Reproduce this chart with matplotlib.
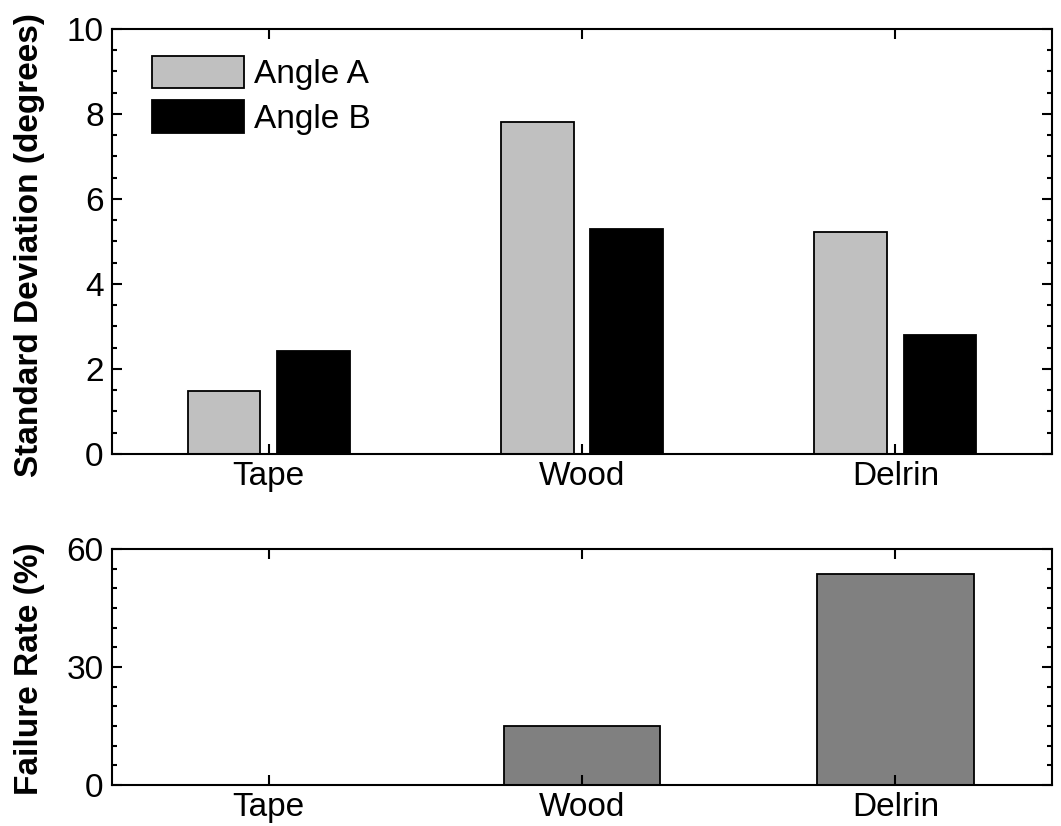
import numpy as np
import matplotlib
matplotlib.use("Agg")
import matplotlib.pyplot as plt
from matplotlib.ticker import MultipleLocator

# data
materials = ["Tape", "Wood", "Delrin"]
angle_a = [1.47, 7.80, 5.22]
angle_b = [2.43, 5.29, 2.80]
failure_rate = [0.0, 15.0, 53.7]

plt.rcParams["font.family"] = ["Liberation Sans", "DejaVu Sans"]
plt.rcParams["font.size"] = 24


def style_axes(ax, minor_step):
    for side in ax.spines.values():
        side.set_linewidth(1.5)
    ax.tick_params(axis="both", which="both", direction="in",
                   top=True, right=True, width=1.5)
    ax.tick_params(axis="both", which="major", length=7)
    ax.tick_params(axis="y", which="minor", length=3.5)
    ax.tick_params(axis="y", which="major", pad=6)
    ax.tick_params(axis="x", which="major", pad=5)
    ax.yaxis.set_minor_locator(MultipleLocator(minor_step))


fig = plt.figure(figsize=(10.61, 8.26), dpi=100)
ax1 = fig.add_axes([0.1056, 0.4504, 0.8859, 0.5145])
ax2 = fig.add_axes([0.1056, 0.0496, 0.8859, 0.2858])

x = np.arange(1, len(materials) + 1)
w = 0.232
off = 0.143

ax1.bar(x - off, angle_a, w, color="#c0c0c0", edgecolor="black",
        linewidth=1.3, label="Angle A")
ax1.bar(x + off, angle_b, w, color="black", edgecolor="black",
        linewidth=1.3, label="Angle B")
ax1.set_xlim(0.5, 3.5)
ax1.set_ylim(0, 10)
ax1.set_xticks(x)
ax1.set_xticklabels(materials)
ax1.set_yticks([0, 2, 4, 6, 8, 10])
style_axes(ax1, 0.5)
ax1.legend(loc="upper left", bbox_to_anchor=(0.043, 0.937), frameon=False,
           borderpad=0, borderaxespad=0, handlelength=2.76, handleheight=1.12,
           handletextpad=0.3, labelspacing=0.3)

ax2.bar(x, failure_rate, 0.5, color="#808080", edgecolor="black", linewidth=1.3)
ax2.set_xlim(0.5, 3.5)
ax2.set_ylim(0, 60)
ax2.set_xticks(x)
ax2.set_xticklabels(materials)
ax2.set_yticks([0, 30, 60])
style_axes(ax2, 5)

fig.text(30 / 1061, 1 - 245 / 826, "Standard Deviation (degrees)",
         rotation=90, ha="center", va="center", fontweight="bold", fontsize=24)
fig.text(30 / 1061, 1 - 669 / 826, "Failure Rate (%)",
         rotation=90, ha="center", va="center", fontweight="bold", fontsize=24)

fig.savefig("out.png", dpi=100)
